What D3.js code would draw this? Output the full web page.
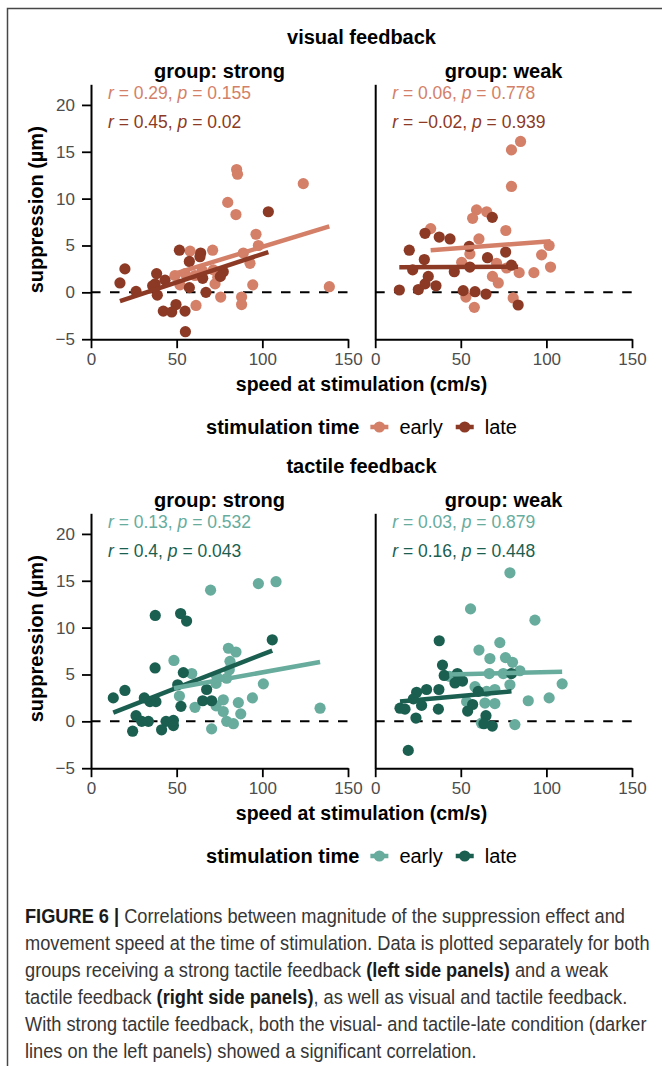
<!DOCTYPE html>
<html>
<head>
<meta charset="utf-8">
<script src="https://cdn.jsdelivr.net/npm/d3@7"></script>
<style>
  html, body { margin: 0; padding: 0; background: #fff; }
  svg { display: block; }
</style>
</head>
<body>
<svg id="fig" width="662" height="1066"></svg>
<script>
// Each point: [speed at stimulation (cm/s), suppression (µm)]
const visualStrongEarly = [
  [85.0, 13.1], [85.5, 12.6], [123.9, 11.6], [79.8, 9.6], [84.6, 8.3], [96.3, 6.2],
  [97.7, 5.0], [71.0, 4.5], [57.8, 4.4], [88.9, 4.2], [92.8, 3.1], [71.4, 2.4],
  [60.7, 1.8], [49.0, 1.8], [54.9, 2.0], [65.0, 2.3], [51.9, 0.8], [72.4, 0.9],
  [94.4, 0.8], [139.1, 0.6], [75.7, -0.5], [87.9, -0.5], [87.9, -1.3], [61.3, -1.4],
  [74.0, 1.6]
];
const visualStrongLate = [
  [103.5, 8.6], [51.6, 4.5], [64.0, 4.2], [57.4, 3.3], [63.6, 3.8], [19.8, 2.5],
  [38.3, 2.0], [16.9, 1.0], [37.4, 0.9], [43.2, 1.3], [26.3, 0.1], [38.7, -0.3],
  [57.4, 0.5], [65.2, 1.5], [77.2, 2.2], [67.1, 0.0], [49.6, -1.3], [42.2, -2.0],
  [47.1, -2.1], [54.9, -2.0], [55.1, -4.2], [36.0, 0.7], [75.5, 1.7]
];
const visualWeakEarly = [
  [84.9, 16.1], [79.6, 15.2], [79.6, 11.3], [59.2, 8.8], [65.1, 8.6], [56.9, 7.9],
  [32.4, 6.8], [76.3, 6.6], [60.6, 5.7], [101.6, 5.0], [97.2, 4.0], [55.3, 4.1],
  [50.5, 3.2], [70.9, 3.1], [76.7, 2.6], [84.1, 2.1], [92.7, 2.1], [102.4, 2.7],
  [68.5, 1.7], [71.9, 1.0], [80.6, -0.6], [53.0, -0.5], [57.9, -1.6]
];
const visualWeakLate = [
  [68.4, 8.0], [29.1, 6.3], [37.4, 5.9], [43.7, 5.7], [54.9, 4.9], [19.9, 4.5],
  [76.2, 4.3], [28.7, 3.5], [65.6, 3.7], [79.6, 2.9], [21.9, 2.4], [31.0, 1.7],
  [46.2, 2.2], [55.3, 2.7], [35.5, 0.7], [25.2, 0.3], [14.1, 0.25], [51.4, 0.18],
  [58.3, 0.07], [64.7, -0.18], [83.5, -1.35], [29.1, 0.9]
];
const tactileStrongEarly = [
  [69.8, 14.0], [97.7, 14.7], [108.0, 14.9], [80.2, 7.8], [84.6, 7.4], [48.4, 6.5],
  [81.1, 6.4], [58.8, 5.1], [73.3, 4.8], [80.7, 5.5], [79.2, 4.6], [100.6, 4.0],
  [73.0, 4.05], [51.6, 2.7], [94.2, 2.5], [77.2, 2.3], [86.0, 2.0], [60.7, 1.5],
  [73.0, 1.65], [77.2, 1.05], [87.4, 0.8], [79.2, 0.0], [83.1, -0.25], [70.4, -0.8],
  [133.7, 1.4]
];
const tactileStrongLate = [
  [37.5, 11.3], [52.3, 11.5], [55.8, 10.7], [105.8, 8.7], [37.4, 5.7], [53.9, 5.2],
  [50.6, 3.9], [67.5, 3.4], [19.8, 3.3], [13.0, 2.5], [31.1, 2.5], [37.9, 2.1],
  [34.4, 2.1], [65.2, 2.2], [70.4, 2.2], [52.5, 1.6], [26.3, 0.6], [29.6, 0.0],
  [33.5, 0.0], [43.8, 0.0], [48.1, 0.1], [41.2, -0.9], [48.1, -0.45], [24.3, -1.05]
];
const tactileWeakEarly = [
  [78.7, 15.85], [55.7, 12.0], [93.3, 10.8], [72.8, 8.4], [60.6, 7.6], [67.0, 6.7],
  [76.1, 6.8], [80.2, 6.3], [84.5, 5.4], [43.3, 4.8], [66.6, 5.1], [74.8, 5.1],
  [109.2, 4.0], [78.7, 3.9], [58.3, 3.7], [69.9, 3.4], [65.1, 3.2], [89.4, 2.2],
  [101.6, 2.5], [53.4, 2.1], [64.1, 1.95], [69.9, 1.9], [62.1, -0.2], [81.6, -0.35]
];
const tactileWeakLate = [
  [37.4, 8.6], [39.3, 6.0], [40.3, 4.9], [48.0, 5.1], [46.6, 4.1], [51.0, 4.3],
  [79.6, 5.1], [30.0, 3.4], [24.2, 3.1], [37.2, 3.4], [60.2, 3.2], [22.3, 2.4],
  [27.1, 1.7], [36.9, 1.3], [14.5, 1.4], [17.4, 1.3], [23.8, 0.35], [56.9, 1.8],
  [54.0, 1.1], [64.7, 0.6], [63.5, -0.25], [68.4, -0.5], [19.3, -3.1]
];

// Correlation annotations per panel: [early, late]
const visualStats = [
  [{ r: "0.29", p: "0.155" }, { r: "0.45", p: "0.02" }],
  [{ r: "0.06", p: "0.778" }, { r: "\u22120.02", p: "0.939" }]
];
const tactileStats = [
  [{ r: "0.13", p: "0.532" }, { r: "0.4", p: "0.043" }],
  [{ r: "0.03", p: "0.879" }, { r: "0.16", p: "0.448" }]
];

const speedTicks = [0, 50, 100, 150];
const suppressionTicks = [-5, 0, 5, 10, 15, 20];
const feedbackTitles = ["visual feedback", "tactile feedback"];
const groupLabels = ["group: strong", "group: weak"];
const timeLabels = ["early", "late"];
const legendTitle = "stimulation time";
const xTitle = "speed at stimulation (cm/s)";
const yTitle = "suppression (\u00b5m)";

const visualColors = ["#D47F68", "#8C3A25"];
const tactileColors = ["#67AC9D", "#1B5F51"];

const captionLines = [
  [["FIGURE 6 |", true], [" Correlations between magnitude of the suppression effect and", false]],
  [["movement speed at the time of stimulation. Data is plotted separately for both", false]],
  [["groups receiving a strong tactile feedback ", false], ["(left side panels)", true], [" and a weak", false]],
  [["tactile feedback ", false], ["(right side panels)", true], [", as well as visual and tactile feedback.", false]],
  [["With strong tactile feedback, both the visual- and tactile-late condition (darker", false]],
  [["lines on the left panels) showed a significant correlation.", false]]
];

// ---------------------------------------------------------------
const FONT = "'Liberation Sans', Arial, Helvetica, sans-serif";
const svg = d3.select("#fig").attr("font-family", FONT);
svg.append("rect").attr("width", 662).attr("height", 1066).attr("fill", "#fff");

// figure frame (top and left rules)
svg.append("path")
  .attr("d", "M7.5,1066 V8.5 H662")
  .attr("fill", "none").attr("stroke", "#474747").attr("stroke-width", 1.5);

const CX = 361.5;
const panelRanges = [[91, 348], [375.2, 632]];

function linearFit(pts) {
  const mx = d3.mean(pts, d => d[0]);
  const my = d3.mean(pts, d => d[1]);
  let sxy = 0, sxx = 0;
  pts.forEach(([x, y]) => { sxy += (x - mx) * (y - my); sxx += (x - mx) * (x - mx); });
  const b = sxy / sxx;
  return { a: my - b * mx, b, x0: d3.min(pts, d => d[0]), x1: d3.max(pts, d => d[0]) };
}

const sections = [
  { title: feedbackTitles[0], off: 0, colors: visualColors, stats: visualStats,
    panels: [[visualStrongEarly, visualStrongLate], [visualWeakEarly, visualWeakLate]] },
  { title: feedbackTitles[1], off: 429, colors: tactileColors, stats: tactileStats,
    panels: [[tactileStrongEarly, tactileStrongLate], [tactileWeakEarly, tactileWeakLate]] }
];

sections.forEach(sec => {
  const g = svg.append("g").attr("transform", `translate(0,${sec.off})`);

  g.append("text")
    .attr("x", CX).attr("y", 37).attr("dy", "0.35em")
    .attr("text-anchor", "middle").attr("font-weight", "bold").attr("font-size", 20)
    .attr("fill", "#000").text(sec.title);

  const y = d3.scaleLinear().domain([-5, 22.2]).range([339.2, 84.3]);

  // y title
  g.append("text")
    .attr("transform", `translate(36,${(y(-5) + y(22.2)) / 2 - 2}) rotate(-90)`)
    .attr("dy", "0.35em").attr("text-anchor", "middle")
    .attr("font-weight", "bold").attr("font-size", 20).attr("fill", "#000")
    .text(yTitle);

  sec.panels.forEach((series, i) => {
    const [px0, px1] = panelRanges[i];
    const x = d3.scaleLinear().domain([0, 150]).range([px0, px1]);
    const p = g.append("g");

    p.append("text")
      .attr("x", (px0 + px1) / 2).attr("y", 70.5).attr("dy", "0.35em")
      .attr("text-anchor", "middle").attr("font-weight", "bold").attr("font-size", 20)
      .attr("fill", "#000").text(groupLabels[i]);

    // zero reference
    p.append("line")
      .attr("x1", x(0)).attr("x2", x(150)).attr("y1", y(0)).attr("y2", y(0))
      .attr("stroke", "#000").attr("stroke-width", 2).attr("stroke-dasharray", "9.5,9.5");

    // axes
    const yAxis = d3.axisLeft(y)
      .tickValues(i === 0 ? suppressionTicks : [])
      .tickSize(9).tickSizeOuter(0).tickPadding(7);
    const ya = p.append("g").attr("transform", `translate(${px0},0)`).call(yAxis);
    const xAxis = d3.axisBottom(x)
      .tickValues(speedTicks).tickSize(9).tickSizeOuter(0).tickPadding(5);
    const xa = p.append("g").attr("transform", `translate(0,${y(-5)})`).call(xAxis);
    [ya, xa].forEach(a => {
      a.select(".domain").attr("stroke", "#000").attr("stroke-width", 2);
      a.selectAll(".tick line").attr("stroke", "#000").attr("stroke-width", 1.8);
      a.selectAll(".tick text").attr("fill", "#4D4D4D").attr("font-size", 17)
        .attr("font-family", FONT);
    });

    // points
    series.forEach((pts, k) => {
      p.append("g").selectAll("circle").data(pts).join("circle")
        .attr("cx", d => x(d[0])).attr("cy", d => y(d[1]))
        .attr("r", 5.6).attr("fill", sec.colors[k]);
    });

    // least-squares lines
    [1, 0].forEach(k => {
      const f = linearFit(series[k]);
      p.append("line")
        .attr("x1", x(f.x0)).attr("y1", y(f.a + f.b * f.x0))
        .attr("x2", x(f.x1)).attr("y2", y(f.a + f.b * f.x1))
        .attr("stroke", sec.colors[k]).attr("stroke-width", 4.5);
    });

    // r / p annotations
    sec.stats[i].forEach((s, k) => {
      const t = p.append("text")
        .attr("x", px0 + 17).attr("y", k === 0 ? 92.8 : 121.8).attr("dy", "0.35em")
        .attr("font-size", 17.5).attr("fill", sec.colors[k]);
      t.append("tspan").attr("font-style", "italic").text("r");
      t.append("tspan").text(` = ${s.r}, `);
      t.append("tspan").attr("font-style", "italic").text("p");
      t.append("tspan").text(` = ${s.p}`);
    });
  });

  // x title
  g.append("text")
    .attr("x", CX).attr("y", 384).attr("dy", "0.35em")
    .attr("text-anchor", "middle").attr("font-weight", "bold").attr("font-size", 19.5)
    .attr("fill", "#000").text(xTitle);

  // legend
  const lg = g.append("g");
  const ly = 427;
  const lt = lg.append("text").attr("y", ly).attr("dy", "0.35em")
    .attr("font-weight", "bold").attr("font-size", 20).attr("fill", "#000").text(legendTitle);
  const labels = timeLabels.map(l => lg.append("text").attr("y", ly).attr("dy", "0.35em")
    .attr("font-size", 20).attr("fill", "#000").text(l));
  const keyW = 20, gapT = 10, gapK = 10, gapI = 12;
  const widths = [lt.node().getComputedTextLength(), ...labels.map(l => l.node().getComputedTextLength())];
  const total = widths[0] + gapT + (keyW + gapK) * 2 + widths[1] + gapI + widths[2];
  let cx = CX - total / 2;
  lt.attr("x", cx);
  cx += widths[0] + gapT;
  timeLabels.forEach((l, k) => {
    lg.append("line").attr("x1", cx + 1).attr("x2", cx + keyW - 1).attr("y1", ly).attr("y2", ly)
      .attr("stroke", sec.colors[k]).attr("stroke-width", 4.5);
    lg.append("circle").attr("cx", cx + keyW / 2).attr("cy", ly).attr("r", 5.6).attr("fill", sec.colors[k]);
    cx += keyW + gapK;
    labels[k].attr("x", cx);
    cx += widths[k + 1] + gapI;
  });
});

// caption: condensed setting, squeezed horizontally to the text block width
const capBlockW = 625;
const cap = svg.append("g");
const capTexts = captionLines.map((segs, li) => {
  const t = cap.append("text").attr("x", 0).attr("y", 916 + li * 27).attr("dy", "0.35em")
    .attr("font-size", 19.5).attr("fill", "#363636");
  segs.forEach(([s, b]) => {
    const ts = t.append("tspan").text(s);
    if (b) ts.attr("font-weight", "bold").attr("fill", "#1A1A1A");
  });
  return t;
});
const refW = capTexts[1].node().getComputedTextLength();
cap.attr("transform", `translate(25,0) scale(${capBlockW / refW},1)`);
</script>
</body>
</html>
